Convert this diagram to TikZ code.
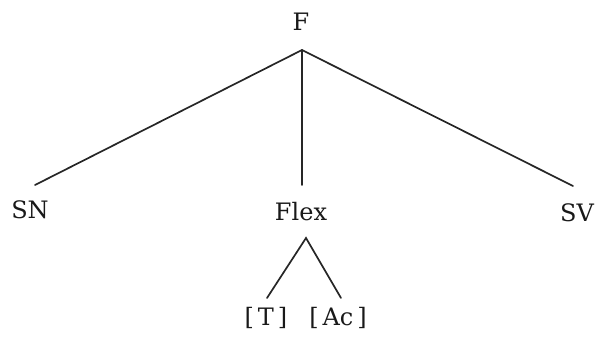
\documentclass[tikz,border=0pt]{standalone}
\usepackage{fontspec}
\setmainfont{DejaVu Serif}
\begin{document}
\begin{tikzpicture}[x=1pt,y=-1pt,
  lab/.style={inner sep=0pt,font=\fontsize{24}{28}\selectfont,text=black!90},
  edge/.style={line width=1.7pt,draw=black!85,line cap=round}]
\useasboundingbox (0,0) rectangle (599,341);
\node[lab] (F) at (301,22) {F};
\node[lab] (SN) at (30,210) {SN};
\node[lab] (Flex) at (301,212) {Flex};
\node[lab] (SV) at (577,213) {SV};
\node[lab] (T) at (266,318) {[\,T\,]};
\node[lab] (Ac) at (338,318) {[\,Ac\,]};
\coordinate (Fa) at (302,50);
\coordinate (SNa) at (35,185);
\coordinate (Flexa) at (302,185);
\coordinate (SVa) at (573,186);
\coordinate (Flexb) at (306,238);
\coordinate (Ta) at (267,298);
\coordinate (Aca) at (341,298);
\draw[edge] (SNa) -- (Fa) -- (SVa);
\draw[edge] (Fa) -- (Flexa);
\draw[edge] (Ta) -- (Flexb) -- (Aca);
\end{tikzpicture}
\end{document}
